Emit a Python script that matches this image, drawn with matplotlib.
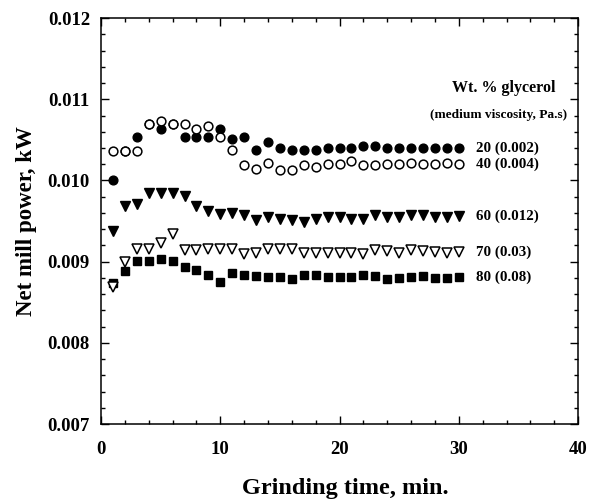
import numpy as np
import matplotlib.pyplot as plt
from matplotlib.ticker import MultipleLocator

# grinding time, min
time = np.arange(1, 31)

# net mill power, kW, for each glycerol content
# (first few of the 20 % points sit behind the open circles)
power_20 = [0.01000, 0.01036, 0.01053, 0.01070, 0.01063, 0.01070, 0.01053, 0.01053, 0.01053, 0.01063,
            0.01051, 0.01054, 0.01037, 0.01047, 0.01040, 0.01037, 0.01037, 0.01037, 0.01040, 0.01040,
            0.01040, 0.01042, 0.01043, 0.01040, 0.01040, 0.01040, 0.01040, 0.01040, 0.01040, 0.01040]
power_40 = [0.01036, 0.01036, 0.01036, 0.01070, 0.01073, 0.01070, 0.01070, 0.01063, 0.01067, 0.01053,
            0.01037, 0.01019, 0.01014, 0.01022, 0.01013, 0.01013, 0.01019, 0.01016, 0.01020, 0.01020,
            0.01024, 0.01019, 0.01019, 0.01020, 0.01020, 0.01021, 0.01020, 0.01020, 0.01021, 0.01020]
power_60 = [0.00938, 0.00968, 0.00971, 0.00985, 0.00985, 0.00985, 0.00981, 0.00969, 0.00962, 0.00959,
            0.00960, 0.00958, 0.00951, 0.00955, 0.00952, 0.00951, 0.00949, 0.00952, 0.00955, 0.00955,
            0.00953, 0.00953, 0.00957, 0.00955, 0.00955, 0.00957, 0.00957, 0.00955, 0.00955, 0.00956]
power_70 = [0.00869, 0.00899, 0.00916, 0.00916, 0.00923, 0.00934, 0.00914, 0.00914, 0.00916, 0.00916,
            0.00916, 0.00910, 0.00911, 0.00915, 0.00916, 0.00916, 0.00911, 0.00911, 0.00911, 0.00911,
            0.00911, 0.00910, 0.00914, 0.00913, 0.00911, 0.00914, 0.00913, 0.00912, 0.00911, 0.00912]
power_80 = [0.00874, 0.00889, 0.00901, 0.00901, 0.00903, 0.00901, 0.00893, 0.00890, 0.00883, 0.00875,
            0.00886, 0.00883, 0.00882, 0.00881, 0.00881, 0.00879, 0.00884, 0.00883, 0.00881, 0.00881,
            0.00881, 0.00884, 0.00882, 0.00879, 0.00880, 0.00881, 0.00882, 0.00880, 0.00880, 0.00881]

labels = ["20 (0.002)", "40 (0.004)", "60 (0.012)", "70 (0.03)", "80 (0.08)"]

plt.rcParams['font.family'] = ['Liberation Serif', 'DejaVu Serif']
plt.rcParams['font.weight'] = 'bold'

fig = plt.figure(figsize=(5.89, 5.03), dpi=100)
ax = fig.add_axes([0.1715, 0.157, 0.81, 0.807])

ms = 6.3
ax.plot(time, power_20, 'o', color='black', ms=ms, zorder=3)
ax.plot(time, power_40, 'o', mfc='white', mec='black', mew=1.1, ms=ms, zorder=4)
ax.plot(time, power_60, 'v', color='black', ms=ms + 0.3, zorder=3)
ax.plot(time, power_70, 'v', mfc='white', mec='black', mew=1.1, ms=ms + 0.3, zorder=4)
ax.plot(time, power_80, 's', color='black', ms=ms - 0.6, zorder=3)

# series labels next to the last point
for vals, lab in zip([power_20, power_40, power_60, power_70, power_80], labels):
    ax.text(31.4, vals[-1], lab, fontsize=10.8, fontweight='bold', va='center', ha='left')

ax.text(33.8, 0.01114, "Wt. % glycerol", fontsize=11.5, fontweight='bold', ha='center', va='center')
ax.text(33.3, 0.01081, "(medium viscosity, Pa.s)", fontsize=9.6, fontweight='bold', ha='center', va='center')

ax.set_xlim(0, 40)
ax.set_ylim(0.007, 0.012)
ax.xaxis.set_major_locator(MultipleLocator(10))
ax.xaxis.set_minor_locator(MultipleLocator(2))
ax.yaxis.set_major_locator(MultipleLocator(0.001))
ax.yaxis.set_minor_locator(MultipleLocator(0.0002))
ax.yaxis.set_major_formatter(plt.FormatStrFormatter('%.3f'))

ax.tick_params(which='both', direction='in', top=True, right=True, width=1)
ax.tick_params(which='major', length=6, labelsize=13.5)
ax.tick_params(axis='x', which='major', pad=12)
ax.tick_params(axis='y', which='major', pad=8)
ax.tick_params(which='minor', length=3)
for lab in ax.get_xticklabels() + ax.get_yticklabels():
    lab.set_fontweight('bold')
for sp in ax.spines.values():
    sp.set_linewidth(1.1)

ax.set_xlabel("Grinding time, min.", fontsize=17.5, fontweight='bold', va='center')
ax.set_ylabel("Net mill power, kW", fontsize=16.5, fontweight='bold', va='center')
ax.xaxis.set_label_coords(0.512, -0.16)
ax.yaxis.set_label_coords(-0.157, 0.5)

plt.savefig("out.png", dpi=100)
